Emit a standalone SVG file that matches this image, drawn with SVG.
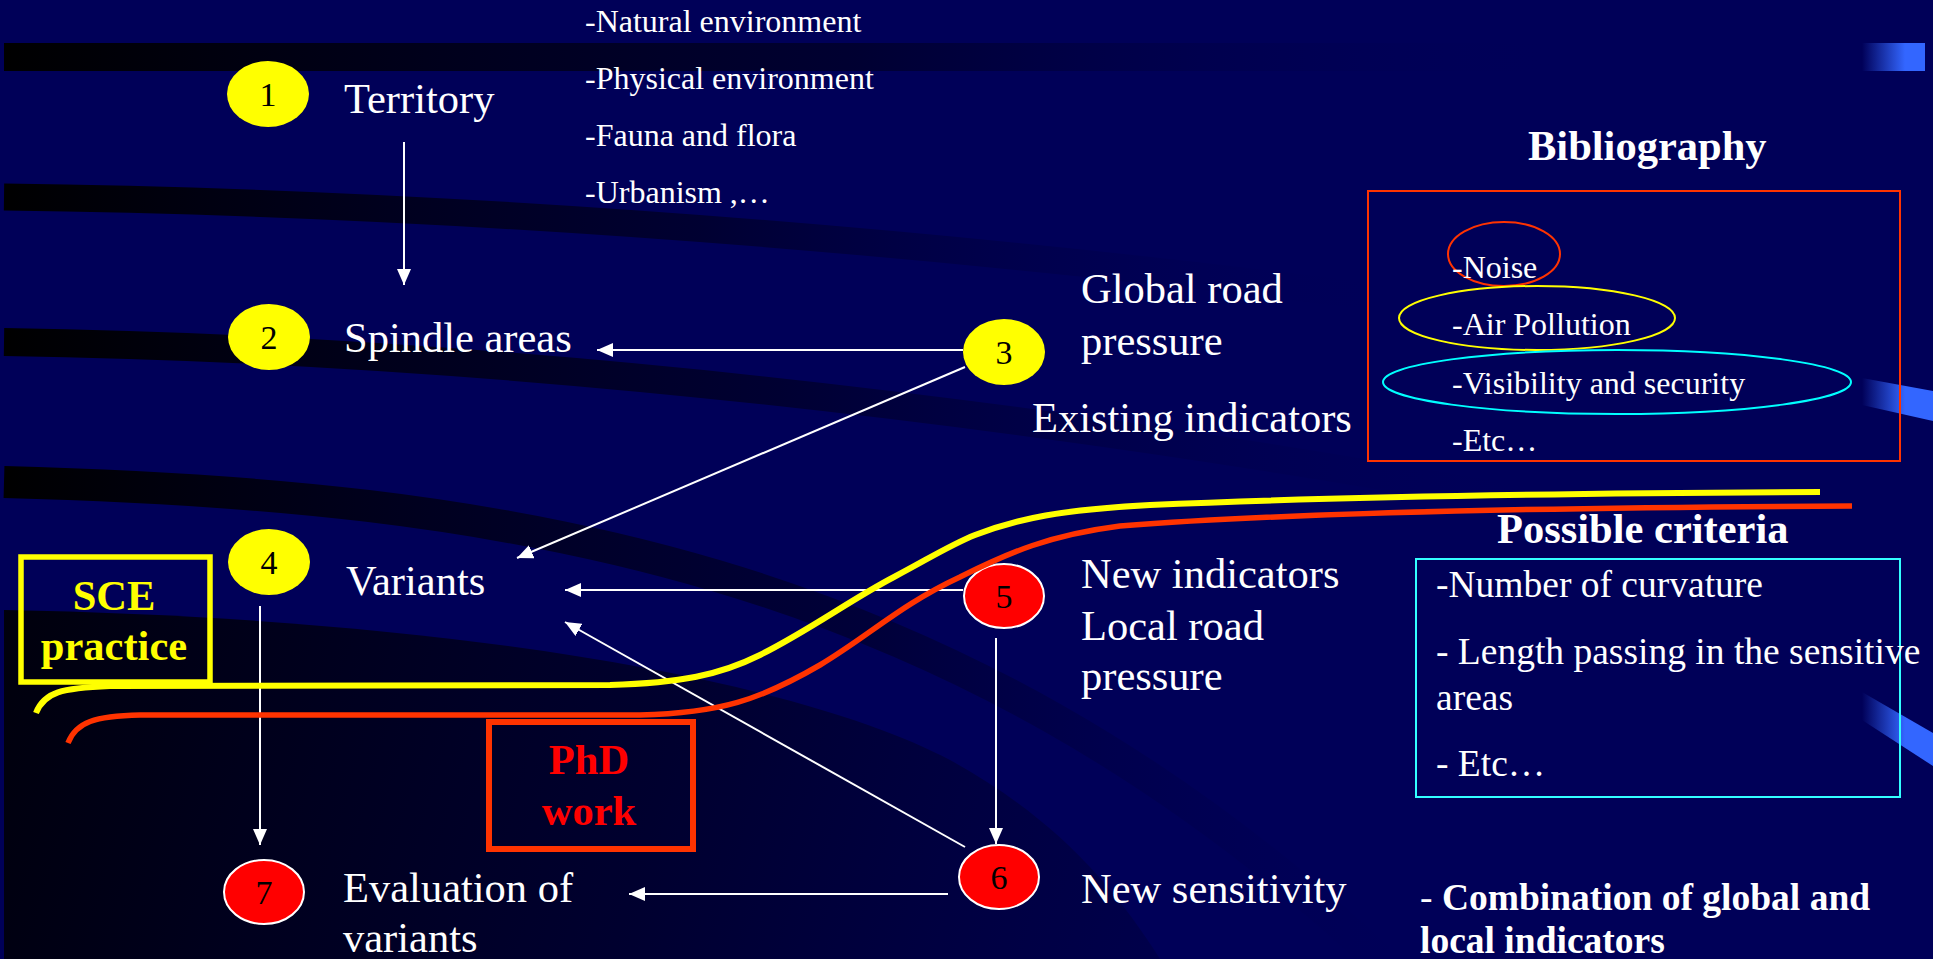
<svg xmlns="http://www.w3.org/2000/svg" width="1933" height="959" viewBox="0 0 1933 959">
<defs>
<style>
.t{font-family:"Liberation Serif","Times New Roman",serif;fill:#fff}
.big{font-size:42.5px}
.sm{font-size:32px}
.md{font-size:37.5px}
.b{font-weight:bold}
.num{font-family:"Liberation Serif","Times New Roman",serif;font-size:34px;fill:#000;text-anchor:middle}
.yc{fill:#ffff00}
.rc{fill:#ff0000;stroke:#fff;stroke-width:2}
.conn{stroke:#fff;stroke-width:2;fill:none;marker-end:url(#ah)}
</style>
<marker id="ah" viewBox="0 0 16 14" refX="16" refY="7" markerWidth="16" markerHeight="14" markerUnits="userSpaceOnUse" orient="auto">
<path d="M0,0 L16,7 L0,14 Z" fill="#fff"/>
</marker>
<linearGradient id="fadeA" gradientUnits="userSpaceOnUse" x1="0" y1="0" x2="1560" y2="0">
<stop offset="0" stop-color="#000000" stop-opacity="1"/>
<stop offset="0.55" stop-color="#000018" stop-opacity="0.6"/>
<stop offset="1" stop-color="#000058" stop-opacity="0"/>
</linearGradient>
<linearGradient id="fadeB" gradientUnits="userSpaceOnUse" x1="0" y1="0" x2="1400" y2="0">
<stop offset="0" stop-color="#000000" stop-opacity="1"/>
<stop offset="0.5" stop-color="#000018" stop-opacity="0.6"/>
<stop offset="1" stop-color="#000058" stop-opacity="0"/>
</linearGradient>
<linearGradient id="fadeC" gradientUnits="userSpaceOnUse" x1="0" y1="0" x2="1550" y2="0">
<stop offset="0" stop-color="#000000" stop-opacity="1"/>
<stop offset="0.5" stop-color="#000018" stop-opacity="0.6"/>
<stop offset="1" stop-color="#000058" stop-opacity="0"/>
</linearGradient>
<linearGradient id="fadeD" gradientUnits="userSpaceOnUse" x1="0" y1="0" x2="1450" y2="0">
<stop offset="0" stop-color="#000000" stop-opacity="1"/>
<stop offset="0.6" stop-color="#000020" stop-opacity="0.55"/>
<stop offset="1" stop-color="#000058" stop-opacity="0"/>
</linearGradient>
<linearGradient id="fadeL" gradientUnits="userSpaceOnUse" x1="0" y1="610" x2="1200" y2="959">
<stop offset="0" stop-color="#000008" stop-opacity="0.95"/>
<stop offset="0.55" stop-color="#000025" stop-opacity="0.8"/>
<stop offset="1" stop-color="#000040" stop-opacity="0.5"/>
</linearGradient>
<linearGradient id="blueR" gradientUnits="userSpaceOnUse" x1="1862" y1="0" x2="1905" y2="0">
<stop offset="0" stop-color="#000058"/>
<stop offset="1" stop-color="#3366ff"/>
</linearGradient>
</defs>

<g id="background">
<rect x="0" y="0" width="1933" height="959" fill="#000058"/>
<rect x="4" y="43" width="1560" height="28" fill="url(#fadeA)"/>
<path d="M4,197 Q650,205 1400,300" stroke="url(#fadeB)" stroke-width="27" fill="none"/>
<path d="M4,342 Q700,352 1550,505" stroke="url(#fadeC)" stroke-width="28" fill="none"/>
<path d="M4,482 C500,495 950,560 1380,960" stroke="url(#fadeD)" stroke-width="32" fill="none"/>
<path d="M4,610 C450,618 800,680 950,760 C1050,815 1110,880 1160,959 L4,959 Z" fill="url(#fadeL)"/>
<rect x="1862" y="43" width="63" height="28" fill="url(#blueR)"/>
<path d="M1862,378 L1933,391 L1933,421 L1862,405 Z" fill="url(#blueR)"/>
<path d="M1862,692 L1933,733 L1933,766 L1862,720 Z" fill="url(#blueR)"/>
</g>

<g id="connectors">
<path class="conn" d="M404,142 L404,285"/>
<path class="conn" d="M963,350 L597,350"/>
<path class="conn" d="M965,367 L517,558"/>
<path class="conn" d="M963,590 L565,590"/>
<path class="conn" d="M965,847 L565,622"/>
<path class="conn" d="M996,638 L996,844"/>
<path class="conn" d="M260,606 L260,845"/>
<path class="conn" d="M948,894 L629,894"/>
</g>

<g id="list-territory">
<text class="t sm" x="585" y="32">-Natural environment</text>
<text class="t sm" x="585" y="89">-Physical environment</text>
<text class="t sm" x="585" y="146">-Fauna and flora</text>
<text class="t sm" x="585" y="203">-Urbanism ,…</text>
</g>

<g id="node1">
<ellipse cx="268" cy="94" rx="41" ry="33" class="yc"/>
<text class="num" x="268" y="106">1</text>
<text class="t big" x="344" y="113">Territory</text>
</g>
<g id="node2">
<ellipse cx="269" cy="337" rx="41" ry="33" class="yc"/>
<text class="num" x="269" y="349">2</text>
<text class="t big" x="344" y="352">Spindle areas</text>
</g>
<g id="node3">
<ellipse cx="1004" cy="352" rx="41" ry="33" class="yc"/>
<text class="num" x="1004" y="364">3</text>
<text class="t big" x="1081" y="303">Global road</text>
<text class="t big" x="1081" y="355">pressure</text>
<text class="t big" x="1032" y="432">Existing indicators</text>
</g>
<g id="node4">
<ellipse cx="269" cy="562" rx="41" ry="33" class="yc"/>
<text class="num" x="269" y="574">4</text>
<text class="t big" x="346" y="595">Variants</text>
</g>
<g id="node5">
<ellipse cx="1004" cy="596" rx="40" ry="32" class="rc"/>
<text class="num" x="1004" y="608">5</text>
<text class="t big" x="1081" y="588">New indicators</text>
<text class="t big" x="1081" y="640">Local road</text>
<text class="t big" x="1081" y="690">pressure</text>
</g>
<g id="node6">
<ellipse cx="999" cy="877" rx="40" ry="32" class="rc"/>
<text class="num" x="999" y="889">6</text>
<text class="t big" x="1081" y="903">New sensitivity</text>
</g>
<g id="node7">
<ellipse cx="264" cy="892" rx="40" ry="32" class="rc"/>
<text class="num" x="264" y="904">7</text>
<text class="t big" x="343" y="902">Evaluation of</text>
<text class="t big" x="343" y="952">variants</text>
</g>

<g id="bibliography">
<text class="t big b" x="1528" y="160">Bibliography</text>
<rect x="1368" y="191" width="532" height="270" fill="none" stroke="#ff3300" stroke-width="2"/>
<ellipse cx="1504" cy="254" rx="56" ry="32" fill="none" stroke="#ff3300" stroke-width="2"/>
<ellipse cx="1537" cy="318" rx="138" ry="32" fill="none" stroke="#ffff00" stroke-width="2"/>
<ellipse cx="1617" cy="382" rx="234" ry="32" fill="none" stroke="#00ffff" stroke-width="2"/>
<text class="t sm" x="1452" y="278">-Noise</text>
<text class="t sm" x="1452" y="335">-Air Pollution</text>
<text class="t sm" x="1452" y="394">-Visibility and security</text>
<text class="t sm" x="1452" y="451">-Etc…</text>
</g>

<g id="criteria">
<text class="t big b" x="1497" y="543">Possible criteria</text>
<rect x="1416" y="559" width="484" height="238" fill="none" stroke="#33ffff" stroke-width="2"/>
<text class="t md" x="1436" y="597">-Number of curvature</text>
<text class="t md" x="1436" y="664">- Length passing in the sensitive</text>
<text class="t md" x="1436" y="710">areas</text>
<text class="t md" x="1436" y="776">- Etc…</text>
</g>

<g id="combination">
<text class="t md" x="1420" y="910">- <tspan class="b">Combination of global and</tspan></text>
<text class="t md b" x="1420" y="953">local indicators</text>
</g>

<g id="sce">
<rect x="21" y="557" width="189" height="125" fill="none" stroke="#ffff00" stroke-width="5.5"/>
<text class="t big b" x="114" y="610" text-anchor="middle" style="fill:#ffff00">SCE</text>
<text class="t big b" x="114" y="660" text-anchor="middle" style="fill:#ffff00">practice</text>
</g>

<g id="phd">
<rect x="489" y="722" width="204" height="127" fill="none" stroke="#ff3300" stroke-width="6"/>
<text class="t big b" x="589" y="774" text-anchor="middle" style="fill:#ff0000">PhD</text>
<text class="t big b" x="589" y="825" text-anchor="middle" style="fill:#ff0000">work</text>
</g>

<g id="boundaries">
<path d="M36,713 C44,692 62,688 110,686 L610,685 C680,683 720,675 760,655 C810,630 850,600 894,577 C930,558 950,545 975,535 C1020,518 1060,510 1150,505 C1350,496 1600,493 1820,492" fill="none" stroke="#ffff00" stroke-width="6"/>
<path d="M68,743 C76,722 95,716 140,715 L640,715 C720,713 760,700 820,665 C870,635 900,605 960,577 C1010,552 1050,535 1120,526 C1300,512 1600,507 1852,506" fill="none" stroke="#ff3300" stroke-width="5.5"/>
</g>
</svg>
